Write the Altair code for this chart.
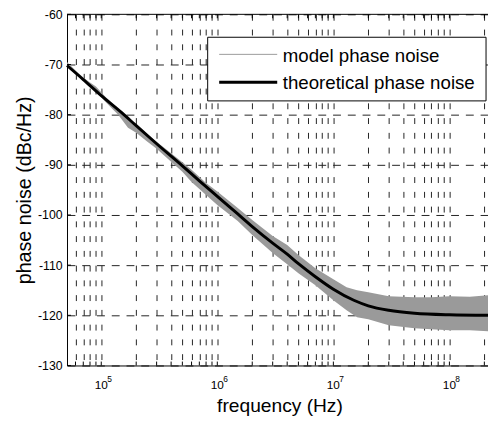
import altair as alt
import pandas as pd

# ---- data ----
freq_theory = [5.07e4, 7e4, 1e5, 1.5e5, 2e5, 3e5, 5e5, 7e5, 1e6, 1.5e6, 2e6, 3e6,
               4e6, 5e6, 7e6, 1e7, 1.5e7, 2e7, 3e7, 5e7, 1e8, 2.15e8]
phase_theory = [-70.2, -73.0, -76.2, -79.6, -82.2, -85.8, -90.2, -93.2, -96.3, -99.8,
                -102.3, -105.6, -107.8, -109.7, -112.3, -114.8, -117.0, -118.1, -119.0,
                -119.6, -119.9, -120.0]

freq_model = [5.07e4, 6e4, 7e4, 8e4, 9e4, 1.1e5, 1.4e5, 1.7e5, 2e5, 2.5e5, 3e5, 4e5,
              5e5, 6e5, 8e5, 1e6, 1.5e6, 2e6, 3e6, 4e6, 5e6, 7e6, 1e7, 1.3e7, 1.6e7,
              2e7, 3e7, 5e7, 7e7, 1e8, 1.5e8, 2.15e8]
model_upper = [-69.5, -71.2, -72.6, -73.6, -74.4, -76.6, -78.8, -80.9, -81.8, -84.0,
               -85.4, -87.7, -89.5, -91.0, -93.6, -95.3, -98.6, -101.0, -104.2, -106.0,
               -108.0, -110.6, -112.8, -114.4, -115.0, -115.4, -116.2, -116.4, -116.4,
               -116.2, -116.3, -116.0]
model_lower = [-70.4, -71.9, -73.2, -74.4, -75.4, -77.6, -80.0, -82.6, -83.6, -85.4,
               -86.8, -89.4, -91.4, -93.4, -96.0, -98.0, -101.2, -104.0, -107.6, -109.8,
               -111.6, -114.0, -117.0, -119.0, -120.4, -120.8, -122.0, -122.6, -122.8,
               -123.0, -123.0, -123.2]

grid_freqs = [6e4, 7e4, 8e4, 9e4,
              1e5, 2e5, 3e5, 4e5, 5e5, 6e5, 7e5, 8e5, 9e5,
              1e6, 2e6, 3e6, 4e6, 5e6, 6e6, 7e6, 8e6, 9e6,
              1e7, 2e7, 3e7, 4e7, 5e7, 6e7, 7e7, 8e7, 9e7,
              1e8, 2e8]
decades = [1e5, 1e6, 1e7, 1e8]
decade_base = ["10", "10", "10", "10"]
decade_exp = ["5", "6", "7", "8"]
y_ticks = [-130, -120, -110, -100, -90, -80, -70, -60]
legend_labels = ["model phase noise", "theoretical phase noise"]

FONT = "Liberation Sans"
W, H = 428, 357

df_theory = pd.DataFrame({"f": freq_theory, "v": phase_theory})
df_model = pd.DataFrame({"f": freq_model, "upper": model_upper, "lower": model_lower})
df_grid = pd.DataFrame({"f": grid_freqs})
df_dec = pd.DataFrame({"f": decades, "base": decade_base, "exp": decade_exp})
df_y = pd.DataFrame({"v": y_ticks})
one = pd.DataFrame({"k": [0]})

x_scale = alt.Scale(type="log", domain=[5.07e4, 2.15e8], nice=False)
y_scale = alt.Scale(domain=[-130, -60], nice=False, zero=False)

x_axis = alt.Axis(
    title="frequency (Hz)", values=grid_freqs, labels=False,
    grid=True, gridDash=[6, 9], gridColor="#222222", gridWidth=1,
    ticks=False, tickSize=0,
    domainColor="black", domainWidth=1,
    titleFont=FONT, titleFontSize=19.5, titleFontWeight="normal", titleColor="black",
    titleX=216, titleY=47, titleBaseline="alphabetic",
)
y_axis = alt.Axis(
    title="phase noise (dBc/Hz)", values=y_ticks, labelExpr="'' + datum.value",
    grid=True, gridDash=[8, 7], gridColor="#222222", gridWidth=1,
    ticks=False, tickSize=0, labelOverlap=False, labelFlush=False,
    labelFont=FONT, labelFontSize=12.5, labelColor="black", labelPadding=5,
    domainColor="black", domainWidth=1,
    titleFont=FONT, titleFontSize=20, titleFontWeight="normal", titleColor="black",
    titleX=-37.5, titleY=178.4, titleAngle=270, titleBaseline="alphabetic",
)

band = alt.Chart(df_model).mark_area(color="#9a9a9a", opacity=1).encode(
    x=alt.X("f:Q", scale=x_scale, axis=x_axis),
    y=alt.Y("upper:Q", scale=y_scale, axis=y_axis),
    y2="lower:Q",
)
theory = alt.Chart(df_theory).mark_line(color="black", strokeWidth=3, interpolate="monotone").encode(
    x="f:Q", y="v:Q"
)

# inward tick marks (MATLAB style)
ticks_bottom = alt.Chart(df_grid).mark_rule(color="black", strokeWidth=1).encode(
    x="f:Q", y=alt.value(H), y2=alt.value(H - 4)
)
ticks_top = alt.Chart(df_grid).mark_rule(color="black", strokeWidth=1).encode(
    x="f:Q", y=alt.value(0), y2=alt.value(4)
)
ticks_left = alt.Chart(df_y).mark_rule(color="black", strokeWidth=1).encode(
    y="v:Q", x=alt.value(0), x2=alt.value(4)
)

# decade labels 10^n
lab_base = alt.Chart(df_dec).mark_text(
    align="center", baseline="alphabetic", font=FONT, fontSize=12, color="black"
).encode(x="f:Q", y=alt.value(H + 23.5), text="base:N")
lab_exp = alt.Chart(df_dec).mark_text(
    align="left", baseline="alphabetic", font=FONT, fontSize=8.5, color="black", dx=6
).encode(x="f:Q", y=alt.value(H + 17), text="exp:N")

top_border = alt.Chart(one).mark_rule(color="black", strokeWidth=1).encode(
    x=alt.value(0), x2=alt.value(W), y=alt.value(0)
)

leg_box = alt.Chart(one).mark_rect(fill="white", stroke="black", strokeWidth=1).encode(
    x=alt.value(143), x2=alt.value(426), y=alt.value(23.3), y2=alt.value(88)
)
leg_line1 = alt.Chart(one).mark_rule(color="#9a9a9a", strokeWidth=1).encode(
    x=alt.value(154.7), x2=alt.value(213.7), y=alt.value(40.7)
)
leg_line2 = alt.Chart(one).mark_rule(color="black", strokeWidth=3).encode(
    x=alt.value(154.7), x2=alt.value(213.7), y=alt.value(69)
)
leg_text1 = alt.Chart(one).mark_text(
    align="left", baseline="alphabetic", font=FONT, fontSize=19, color="black"
).encode(x=alt.value(219.3), y=alt.value(48), text=alt.value(legend_labels[0]))
leg_text2 = alt.Chart(one).mark_text(
    align="left", baseline="alphabetic", font=FONT, fontSize=19, color="black"
).encode(x=alt.value(219.3), y=alt.value(76.3), text=alt.value(legend_labels[1]))

chart = alt.layer(
    band, theory, ticks_bottom, ticks_top, ticks_left, lab_base, lab_exp,
    top_border, leg_box, leg_line1, leg_line2, leg_text1, leg_text2
).properties(
    width=W, height=H,
    autosize=alt.AutoSizeParams(type="none"),
    padding={"left": 60, "top": 3, "right": 0, "bottom": 53},
    background="white",
).configure_view(strokeWidth=0)

chart.save("out.html", embed_options={"renderer": "svg", "actions": False})
